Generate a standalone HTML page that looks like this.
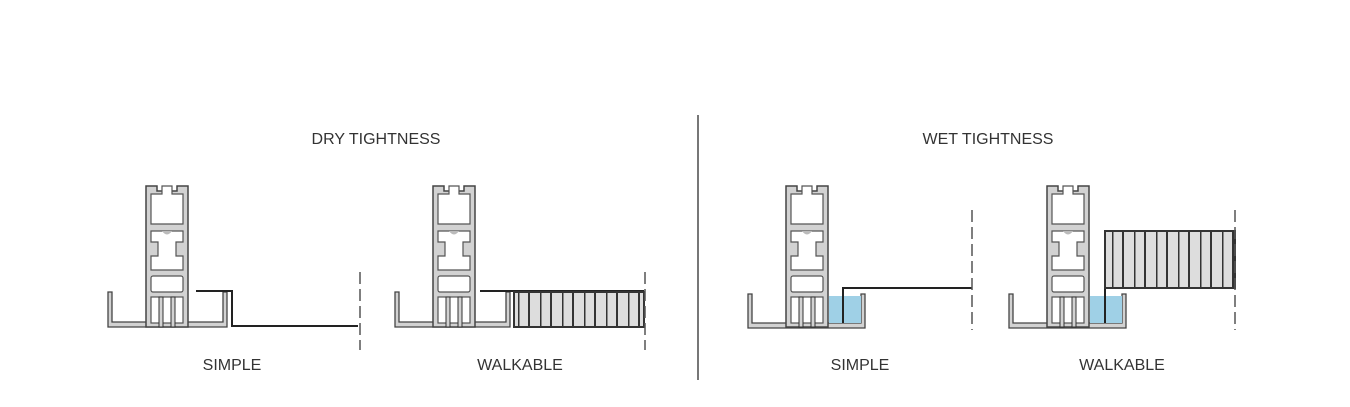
<!DOCTYPE html>
<html><head><style>
body{margin:0;background:#fff;width:1350px;height:407px;overflow:hidden}
svg{display:block}
text{font-family:"Liberation Sans",sans-serif;font-size:16px;fill:#333;text-anchor:middle}
</style></head><body>
<svg width="1350" height="407" viewBox="0 0 1350 407">
<defs>
<g id="col">
<polygon points="0,141 0,0 11,0 11,5 31,5 31,0 42,0 42,141" fill="#d2d2d2" stroke="#444" stroke-width="1.5"/>
<polygon points="16,0 16,8 5,8 5,38 37,38 37,8 26,8 26,0" fill="#fff" stroke="#555" stroke-width="1.2"/>
<path d="M5,45 H37 V56 H30 V70 H37 V84 H5 V70 H12 V56 H5 Z" fill="#fff" stroke="#555" stroke-width="1.2"/>
<path d="M16,45 Q21,52 26,45 Z" fill="#bbb"/>
<rect x="5" y="90" width="32" height="16" rx="2" fill="#fff" stroke="#555" stroke-width="1.2"/>
<rect x="5" y="111" width="32" height="26" fill="#fff" stroke="#555" stroke-width="1.2"/>
<rect x="13" y="111" width="4" height="30" fill="#d2d2d2" stroke="#333" stroke-width="1"/>
<rect x="25" y="111" width="4" height="30" fill="#d2d2d2" stroke="#333" stroke-width="1"/>
</g>
<pattern id="pan" width="22" height="60" patternUnits="userSpaceOnUse">
<rect width="22" height="60" fill="#ddd"/><rect x="0" width="2" height="60" fill="#333"/><rect x="12" width="1.5" height="60" fill="#333"/>
</pattern>
</defs>
<line x1="698" y1="115" x2="698" y2="380" stroke="#777" stroke-width="2"/>
<text x="376" y="144">DRY TIGHTNESS</text>
<text x="988" y="144">WET TIGHTNESS</text>
<text x="232" y="370">SIMPLE</text>
<text x="520" y="370">WALKABLE</text>
<text x="860" y="370">SIMPLE</text>
<text x="1122" y="370">WALKABLE</text>

<g transform="translate(146,186)">
<polygon points="-38,106 -34,106 -34,136 77,136 77,106 81,106 81,141 -38,141" fill="#d2d2d2" stroke="#444" stroke-width="1.3"/>
<use href="#col"/>
</g>
<polyline points="196,291 232,291 232,326 358,326" fill="none" stroke="#222" stroke-width="2"/>
<line x1="360" y1="272" x2="360" y2="350" stroke="#555" stroke-width="1.5" stroke-dasharray="12,5"/>

<g transform="translate(433,186)">
<polygon points="-38,106 -34,106 -34,136 73,136 73,106 77,106 77,141 -38,141" fill="#d2d2d2" stroke="#444" stroke-width="1.3"/>
<use href="#col"/>
</g>
<line x1="480" y1="291" x2="644" y2="291" stroke="#222" stroke-width="2"/>
<rect x="514" y="292" width="130" height="35" fill="url(#pan)" stroke="#333" stroke-width="2"/>
<line x1="645" y1="272" x2="645" y2="350" stroke="#555" stroke-width="1.5" stroke-dasharray="12,5"/>

<g transform="translate(786,186)">
<polygon points="-38,108 -34,108 -34,137 75,137 75,108 79,108 79,142 -38,142" fill="#d2d2d2" stroke="#444" stroke-width="1.3"/>
<rect x="43" y="110" width="32" height="27" fill="#9fd0e6"/>
<use href="#col"/>
</g>
<polyline points="843,323 843,288 972,288" fill="none" stroke="#222" stroke-width="2"/>
<line x1="972" y1="210" x2="972" y2="330" stroke="#555" stroke-width="1.5" stroke-dasharray="12,5"/>

<g transform="translate(1047,186)">
<polygon points="-38,108 -34,108 -34,137 75,137 75,108 79,108 79,142 -38,142" fill="#d2d2d2" stroke="#444" stroke-width="1.3"/>
<rect x="43" y="110" width="32" height="27" fill="#9fd0e6"/>
<use href="#col"/>
</g>
<line x1="1105" y1="230" x2="1105" y2="323" stroke="#222" stroke-width="2"/>
<rect x="1105" y="231" width="130" height="57" fill="url(#pan)" stroke="#333" stroke-width="2"/>
<line x1="1235" y1="210" x2="1235" y2="330" stroke="#555" stroke-width="1.5" stroke-dasharray="12,5"/>
</svg>
</body></html>
